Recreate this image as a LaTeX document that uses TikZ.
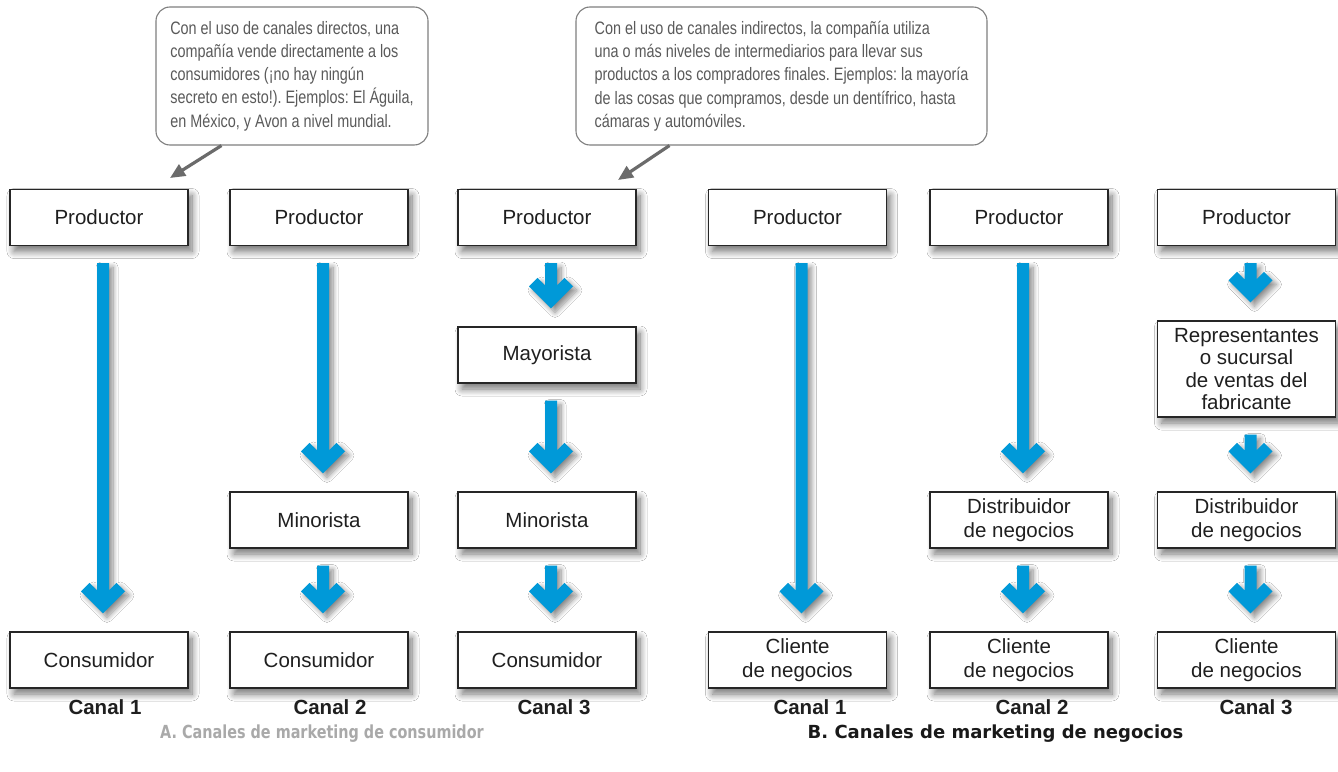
\documentclass[tikz,border=0pt]{standalone}
\usepackage{fontspec}
\setmainfont{Liberation Sans}
\newfontfamily\condfont[FakeStretch=0.80]{Liberation Sans}
\newfontfamily\titlefontA[FakeStretch=0.80]{DejaVu Sans}
\newfontfamily\titlefontB{DejaVu Sans}
\usetikzlibrary{calc,arrows.meta,shadows.blur}
\definecolor{flechaazul}{HTML}{0099D8}
\definecolor{textogris}{HTML}{5A5A5A}
\definecolor{bordegris}{HTML}{7F7F7F}
\definecolor{punterogris}{HTML}{6B6B6B}
\definecolor{tituloA}{HTML}{A9A9A9}
\frenchspacing
\tikzset{
  caja/.style={draw=black!85, line width=1.1pt, fill=white, minimum width=178pt,
    minimum height=56pt, inner sep=0pt, align=center, text=black!88,
    font=\fontsize{20.5}{23.5}\selectfont,
    blur shadow={shadow xshift=4pt, shadow yshift=-6pt, shadow blur radius=7pt, shadow blur steps=10, shadow opacity=55}},
  canal/.style={font=\bfseries\fontsize{20.5}{23}\selectfont, text=black!88, inner sep=0pt},
  globo/.style={draw=bordegris, line width=1.1pt, rounded corners=14pt, fill=white,
    align=left, inner xsep=13pt, inner ysep=0pt, text=textogris,
    font=\condfont\fontsize{18}{23.3}\selectfont},
  puntero/.style={draw=punterogris, line width=3.2pt, -{Triangle[length=15pt,width=13pt]}},
  flecha/.style={fill=flechaazul,
    blur shadow={shadow xshift=4pt, shadow yshift=-4pt, shadow blur radius=5pt, shadow blur steps=10, shadow opacity=45}},
}
\newcommand\flechaazul[2]{%
  \fill[flecha] ($(#1.south)+(-2pt,-17pt)$) -- ($(#1.south)+(10pt,-17pt)$)
    -- ($(#2.north)+(10pt,41pt)$) -- ($(#2.north)+(17.5pt,48.5pt)$)
    -- ($(#2.north)+(26pt,40pt)$) -- ($(#2.north)+(4pt,18pt)$)
    -- ($(#2.north)+(-18pt,40pt)$) -- ($(#2.north)+(-9.5pt,48.5pt)$)
    -- ($(#2.north)+(-2pt,41pt)$) -- cycle;}
\begin{document}
\begin{tikzpicture}[x=1pt,y=-1pt]
\useasboundingbox[fill=white] (0,0) rectangle (1338,771);

% callouts
\node[globo, minimum width=272pt, minimum height=138pt] (co1) at (292,76)
 {Con el uso de canales directos, una\\compañía vende directamente a los\\consumidores (¡no hay ningún\\secreto en esto!). Ejemplos: El Águila,\\en México, y Avon a nivel mundial.};
\node[globo, minimum width=411pt, minimum height=138pt] (co2) at (781.5,76)
 {Con el uso de canales indirectos, la compañía utiliza\\una o más niveles de intermediarios para llevar sus\\productos a los compradores finales. Ejemplos: la mayoría\\de las cosas que compramos, desde un dentífrico, hasta\\cámaras y automóviles.};
\coordinate (t1) at (170,178);
\coordinate (t2) at (618,180);
\draw[puntero] ($(co1.south west)+(66pt,0pt)$) -- (t1);
\draw[puntero] ($(co2.south west)+(94pt,0pt)$) -- (t2);

% column A1
\node[caja] (p1) at (99,217.5) {Productor};
\node[caja] (c1) at (99,660) {Consumidor};
% column A2
\node[caja] (p2) at (319,217.5) {Productor};
\node[caja] (m2) at (319,520) {Minorista};
\node[caja] (c2) at (319,660) {Consumidor};
% column A3
\node[caja] (p3) at (547,217.5) {Productor};
\node[caja] (y3) at (547,355) {Mayorista};
\node[caja] (m3) at (547,520) {Minorista};
\node[caja] (c3) at (547,660) {Consumidor};
% column B1
\node[caja] (p4) at (797.5,217.5) {Productor};
\node[caja] (k4) at (797.5,660) {Cliente\\de negocios};
% column B2
\node[caja] (p5) at (1019,217.5) {Productor};
\node[caja] (d5) at (1019,520) {Distribuidor\\de negocios};
\node[caja] (k5) at (1019,660) {Cliente\\de negocios};
% column B3
\node[caja] (p6) at (1246.5,217.5) {Productor};
\node[caja, minimum height=96pt, font=\fontsize{20.5}{22.5}\selectfont] (r6) at (1246.5,369) {Representantes\\o sucursal\\de ventas del\\fabricante};
\node[caja] (d6) at (1246.5,520) {Distribuidor\\de negocios};
\node[caja] (k6) at (1246.5,660) {Cliente\\de negocios};

% arrows
\flechaazul{p1}{c1}
\flechaazul{p2}{m2}
\flechaazul{m2}{c2}
\flechaazul{p3}{y3}
\flechaazul{y3}{m3}
\flechaazul{m3}{c3}
\flechaazul{p4}{k4}
\flechaazul{p5}{d5}
\flechaazul{d5}{k5}
\flechaazul{p6}{r6}
\flechaazul{r6}{d6}
\flechaazul{d6}{k6}

% channel labels
\node[canal] (l1) at (105,707) {Canal 1};
\node[canal] (l2) at (330,707) {Canal 2};
\node[canal] (l3) at (554,707) {Canal 3};
\node[canal] (l4) at (810,707) {Canal 1};
\node[canal] (l5) at (1032,707) {Canal 2};
\node[canal] (l6) at (1256,707) {Canal 3};

% titles
\node[font=\titlefontA\bfseries\fontsize{18}{20}\selectfont, text=tituloA, inner sep=0pt] (ta) at (322,734) {A. Canales de marketing de consumidor};
\node[font=\titlefontB\bfseries\fontsize{18}{20}\selectfont, text=black!90, inner sep=0pt] (tb) at (995.5,734) {B. Canales de marketing de negocios};
\end{tikzpicture}
\end{document}
